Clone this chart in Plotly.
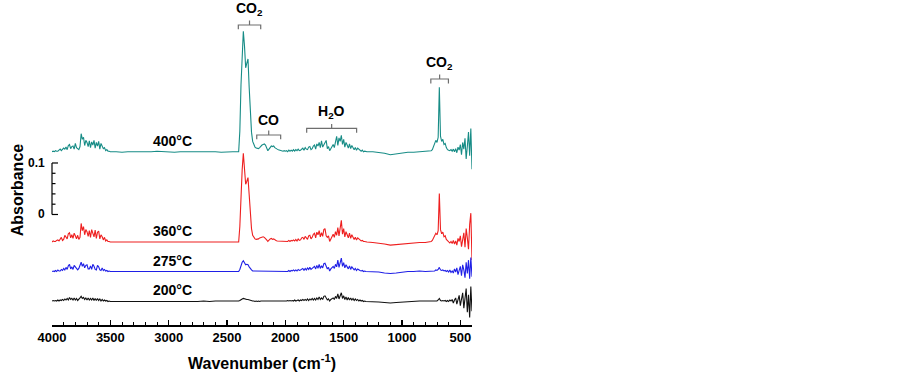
import plotly.graph_objects as go

# ---------------- data ----------------
# wavenumber sampling grid (cm^-1), descending
WAVENUMBER = (list(range(4000, 3499, -10)) + list(range(3450, 2399, -50)) +
              list(range(2390, 1299, -10)) + list(range(1250, 749, -50)) +
              list(range(740, 399, -10)))

TEMPERATURES = ["400°C", "360°C", "275°C", "200°C"]

# absorbance above each spectrum's own baseline, in milli-absorbance units
ABS_400 = [
    # 4000-3500
    0, 1, 0, 2, 1, 1, 3, 5, 2, 4,
    7, 5, 9, 4, 12, 14, 6, 10, 11, 5,
    16, 8, 6, 4, 10, 35, 24, 28, 12, 22,
    18, 10, 21, 8, 19, 13, 22, 7, 18, 11,
    20, 5, 16, 9, 6, 8, 2, 4, 1, 1, 0,
    # 3450-2400
    0, -1, 0, 0, -1, 0, 0, 1, 0, 0, -1, 0, 0, 0, 1, 0, 0, 0, -1, 0, 0, 0,
    # 2390-1300
    40, 130, 200, 234, 205, 163, 172, 180, 125, 78,
    38, 20, 12, 9, 7, 7, 6, 8, 11, 13,
    14, 15, 13, 7, 2, 5, 9, 11, 10, 11,
    8, 6, 5, 4, 3, 3, 2, 1, 2, 1,
    2, 0, 3, 1, 3, 1, 4, 1, 4, 2,
    5, 2, 3, 6, 7, 3, 8, 5, 4, 9,
    10, 4, 6, 11, 13, 5, 15, 11, 18, 8,
    21, 9, 13, 19, 22, 6, 10, 2, 6, 9,
    14, 8, 18, 30, 12, 27, 20, 32, 14, 24,
    9, 18, 13, 7, 15, 6, 12, 9, 4, 8,
    3, 7, 5, 2, 1, 3, 0, 1, 0, 0,
    # 1250-750
    0, -1, -3, -6, -4, -2, -1, -1, 0, 0, 2,
    # 740-400
    4, 10, 16, 22, 18, 28, 125, 30, 20, 24,
    14, 16, 8, 4, 3, 2, 4, 1, 5, 0,
    6, -2, 9, 3, 14, -6, 18, 5, 26, -14,
    10, 38, -8, 45, -34,
]

ABS_360 = [
    0, 2, 1, 1, 3, 4, 2, 6, 9, 3,
    5, 13, 10, 6, 16, 18, 8, 14, 7, 17,
    12, 6, 13, 5, 9, 36, 22, 30, 14, 24,
    20, 11, 22, 9, 24, 16, 10, 23, 7, 19,
    21, 6, 14, 10, 4, 9, 2, 4, 1, 1, 0,
    0, 0, -1, 0, 0, 0, -1, 0, 0, 0, 0, -1, 0, 0, 0, 0, 0, -1, 0, 0, 0, 0,
    30, 95, 140, 172, 142, 112, 118, 125, 92, 56,
    26, 13, 8, 6, 5, 5, 6, 8, 9, 10,
    10, 9, 7, 4, 1, 4, 6, 7, 5, 6,
    4, 3, 2, 2, 1, 2, 1, 1, 2, 1,
    2, 1, 3, 1, 3, 2, 4, 2, 5, 2,
    6, 3, 4, 8, 9, 5, 11, 7, 5, 12,
    13, 6, 9, 15, 17, 8, 19, 14, 22, 10,
    18, 11, 24, 26, 12, 9, 12, 1, 7, 10,
    15, 9, 20, 13, 28, 12, 24, 42, 15, 26,
    10, 20, 14, 8, 17, 7, 14, 10, 5, 9,
    4, 8, 6, 3, 2, 3, 1, 1, 0, 0,
    -1, -2, -4, -6, -5, -3, -2, -2, -1, -1, 1,
    3, 8, 12, 17, 14, 22, 94, 24, 16, 19,
    10, 12, 5, 2, 0, -2, 1, -3, 3, -4,
    2, -6, 7, 1, 12, -9, 4, 18, -10, 26,
    8, -14, 34, 56, -35,
]

ABS_275 = [
    0, 1, 0, 2, 0, 3, 1, 1, 4, 2,
    6, 3, 8, 4, 11, 14, 5, 9, 4, 12,
    9, 5, 3, 6, 11, 18, 10, 15, 7, 12,
    13, 5, 5, 11, 4, 14, 10, 4, 3, 12,
    9, 3, 2, 7, 2, 4, 1, 2, 0, 1, 0,
    0, 0, 0, -1, 0, 0, 0, 0, -1, 0, 0, 0, 0, 0, -1, 0, 0, 0, 0, 0, 0, 0,
    4, 12, 18, 21, 16, 13, 14, 13, 9, 5,
    3, 1, 1, 0, 1, 0, 1, 1, 0, 1,
    0, 1, 0, 1, 0, 0, 1, 0, 1, 0,
    1, 0, 1, 0, 1, 0, 1, 0, 1, 0,
    1, 0, 2, 0, 2, 1, 3, 1, 3, 1,
    4, 2, 3, 5, 6, 2, 6, 3, 7, 4,
    8, 4, 6, 9, 10, 5, 12, 6, 14, 6,
    11, 7, 15, 16, 8, 5, 8, 1, 5, 7,
    10, 6, 14, 9, 22, 8, 18, 26, 10, 17,
    7, 13, 9, 5, 11, 4, 9, 6, 3, 6,
    2, 5, 3, 2, 1, 2, 0, 1, 0, 0,
    0, -1, -3, -4, -3, -1, 0, 0, 1, 0, 1,
    1, 2, 1, 3, 2, 4, 8, 3, 2, 3,
    1, 2, 0, 2, -1, 3, -2, 1, -3, 5,
    -1, 7, -6, 2, 10, -8, 13, 3, -12, 18,
    -4, 22, -14, 27, -10,
]

ABS_200 = [
    0, 1, 0, 1, 0, 2, 0, 2, 1, 3,
    1, 4, 2, 5, 2, 7, 3, 5, 2, 6,
    2, 5, 1, 3, 6, 9, 5, 7, 3, 6,
    2, 6, 2, 5, 2, 6, 1, 5, 1, 5,
    1, 4, 0, 3, 0, 2, 0, 1, -1, 0, -1,
    -1, -1, -2, -1, -2, -2, -1, -2, -1, -1, -2, -1, -1, -1, -1, 0, -1, 0, 0, -1, 0, 0,
    1, 3, 4, 5, 4, 3, 3, 3, 2, 1,
    0, 0, 0, -1, 0, -1, 0, -1, 0, 0,
    -1, 0, -1, 0, -1, 0, 0, -1, 0, -1,
    0, 0, -1, 0, 0, -1, 0, 0, -1, 0,
    0, 1, 0, 1, 0, 1, 0, 2, 0, 1,
    2, 0, 2, 1, 3, 1, 3, 1, 4, 1,
    4, 2, 5, 2, 5, 2, 6, 3, 8, 3,
    6, 3, 9, 10, 4, 2, 4, 0, 3, 5,
    6, 3, 9, 5, 14, 4, 11, 16, 5, 10,
    3, 8, 2, 7, 2, 6, 2, 5, 1, 4,
    1, 3, 0, 2, 0, 1, -1, 0, -1, -1,
    -1, -2, -3, -4, -3, -2, -1, -1, 0, 0, 0,
    0, 1, 0, 1, 0, 2, 5, 1, 0, 1,
    0, 1, -1, 1, -1, 2, 0, 3, -4, 2,
    6, -6, 1, 11, -9, 4, 16, -14, 8, 24,
    -22, 12, -32, 28, -20,
]

SPECTRA = [ABS_400, ABS_360, ABS_275, ABS_200]
# vertical stacking offsets (absorbance units)
OFFSETS = [0.1219, -0.0534, -0.1107, -0.168]
COLORS = ["#178c86", "#ee1f1f", "#1f1fe6", "#111111"]

X_TICKS = [4000, 3500, 3000, 2500, 2000, 1500, 1000, 500]
SCALE_TICKS = [0, 0.02, 0.04, 0.06, 0.08, 0.1]

# band brackets: label, (high wn, low wn), bar height (absorbance units)
BANDS = [
    ("CO<sub>2</sub>", 2403, 2211, 0.368),
    ("CO", 2245, 2040, 0.1544),
    ("H<sub>2</sub>O", 1817, 1389, 0.1674),
    ("CO<sub>2</sub>", 753, 602, 0.2631),
]

FONT = "Arial, Liberation Sans, sans-serif"

fig = go.Figure()
for name, vals, off, col in zip(TEMPERATURES, SPECTRA, OFFSETS, COLORS):
    fig.add_trace(go.Scatter(
        x=WAVENUMBER, y=[v / 1000 + off for v in vals], mode="lines",
        line=dict(color=col, width=1.1), name=name, showlegend=False,
        hoverinfo="skip"))
    fig.add_annotation(x=2963, y=off + 0.0205, text="<b>%s</b>" % name,
                       showarrow=False, font=dict(family=FONT, size=14, color="black"),
                       xanchor="center", yanchor="middle")

# band brackets
for label, xa, xb, yb in BANDS:
    xm = (xa + xb) / 2
    path = "M %f,%f L %f,%f L %f,%f L %f,%f M %f,%f L %f,%f" % (
        xa, yb - 0.0085, xa, yb, xb, yb, xb, yb - 0.0085, xm, yb, xm, yb + 0.0085)
    fig.add_shape(type="path", path=path, xref="x", yref="y",
                  line=dict(color="#6e6e6e", width=1.2))
    fig.add_annotation(x=xm, y=yb + 0.0085, text="<b>%s</b>" % label, showarrow=False,
                       font=dict(family=FONT, size=14, color="black"),
                       xanchor="center", yanchor="bottom", yshift=1)

# absorbance scale bar
fig.add_shape(type="line", xref="paper", yref="y", x0=0, x1=0,
              y0=SCALE_TICKS[0], y1=SCALE_TICKS[-1], line=dict(color="black", width=1.2))
for i, t in enumerate(SCALE_TICKS):
    ln = 6 if i in (0, len(SCALE_TICKS) - 1) else 3.5
    fig.add_shape(type="line", xref="paper", yref="y", xsizemode="pixel", xanchor=0,
                  x0=0, x1=ln, y0=t, y1=t, line=dict(color="black", width=1.2))
for t, txt in ((SCALE_TICKS[-1], "0.1"), (SCALE_TICKS[0], "0")):
    fig.add_annotation(x=0, xref="paper", y=t, yref="y", text="<b>%s</b>" % txt,
                       showarrow=False, xanchor="right", yanchor="middle", xshift=-5,
                       font=dict(family=FONT, size=12, color="black"))

fig.add_annotation(x=0, xref="paper", y=0.047, yref="y", text="<b>Absorbance</b>",
                   textangle=-90, showarrow=False, xanchor="center", yanchor="middle",
                   xshift=-35, font=dict(family=FONT, size=16, color="black"))
fig.add_annotation(x=0.5, xref="paper", y=0, yref="paper",
                   text="<b>Wavenumber (cm<sup>-1</sup>)</b>", showarrow=False,
                   xanchor="center", yanchor="middle", yshift=-37,
                   font=dict(family=FONT, size=16, color="black"))

fig.update_layout(
    width=902, height=372,
    margin=dict(l=52, r=430, t=5, b=47),
    paper_bgcolor="white", plot_bgcolor="white",
    font=dict(family=FONT, color="black"),
    xaxis=dict(range=[4000, 400], showgrid=False, zeroline=False,
               showline=True, linecolor="black", linewidth=1.5,
               ticks="inside", ticklen=5, tickwidth=1.2, tickcolor="black",
               tickvals=X_TICKS, ticktext=["<b>%d</b>" % v for v in X_TICKS],
               tickfont=dict(family=FONT, size=13, color="black"),
               minor=dict(ticks="inside", ticklen=3, tickwidth=1, tickcolor="black",
                          dtick=100, tick0=0)),
    yaxis=dict(range=[-0.2146, 0.4068], showgrid=False, zeroline=False,
               showline=False, showticklabels=False, ticks=""),
)

fig.write_html("out.html",
               config={"displayModeBar": False, "staticPlot": True},
               post_script="document.body.style.margin='0';"
                           "document.body.style.overflow='hidden';")
